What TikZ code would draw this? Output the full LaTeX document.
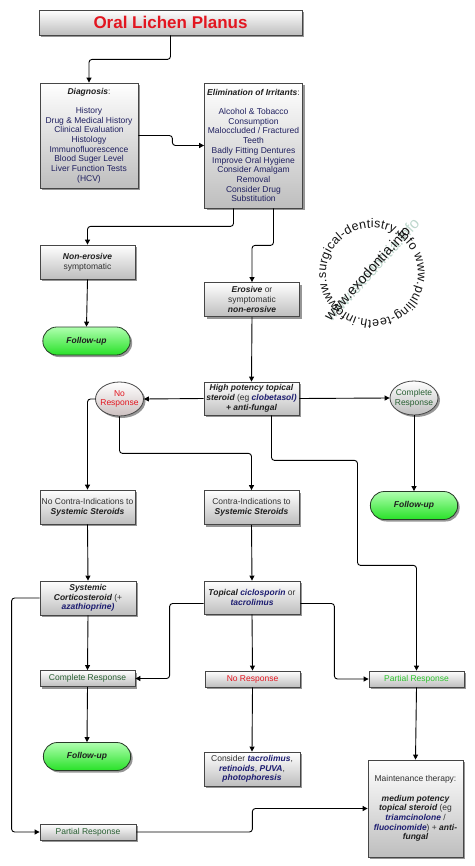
\documentclass[tikz,border=0pt]{standalone}
\usepackage{fontspec}
\setmainfont{Liberation Sans}
\usetikzlibrary{arrows.meta,shapes.misc,shapes.geometric,shadows,decorations.text}
\definecolor{frame}{RGB}{70,70,70}
\definecolor{boxgray}{RGB}{190,190,190}
\definecolor{shadowgray}{RGB}{150,150,150}
\definecolor{ink}{RGB}{50,50,50}
\definecolor{headink}{RGB}{30,30,30}
\definecolor{navy}{RGB}{32,32,96}
\definecolor{drugblue}{RGB}{28,28,112}
\definecolor{olpred}{RGB}{226,22,32}
\definecolor{dkgreen}{RGB}{40,95,50}
\definecolor{ltgreen}{RGB}{45,195,45}
\definecolor{pillline}{RGB}{40,60,40}
\definecolor{pilltop}{RGB}{175,255,175}
\definecolor{pillbot}{RGB}{40,225,40}
\definecolor{pinkgray}{RGB}{205,192,192}
\definecolor{wmink}{RGB}{20,20,20}
\definecolor{wmfade}{RGB}{190,215,205}
\newcommand{\boxfont}{\fontsize{8.5}{9.7}\selectfont}
\newcommand{\wmfont}{\fontsize{12.5}{12.5}\selectfont}
\newcommand{\bfit}[1]{{\color{headink}\bfseries\itshape #1}}
\newcommand{\drug}[1]{{\color{drugblue}\bfseries\itshape #1}}
\tikzset{
  box/.style={draw=frame,line width=0.8pt,top color=white,bottom color=boxgray,
    drop shadow={shadow xshift=2pt,shadow yshift=-2pt,fill=shadowgray,opacity=1},
    align=center,font=\boxfont,text=ink,inner xsep=0pt,inner ysep=1pt,
    minimum width=95pt,minimum height=34pt},
  titlebox/.style={box,minimum width=263pt,minimum height=25pt,
    font=\fontsize{17}{20}\selectfont\bfseries,text=olpred},
  resp/.style={box,minimum height=16pt,text=#1},
  oval/.style={ellipse,draw=frame,line width=0.8pt,top color=white,bottom color=#1,
    drop shadow={shadow xshift=2pt,shadow yshift=-2pt,fill=shadowgray,opacity=1},
    align=center,font=\boxfont,inner xsep=-4pt,inner ysep=0pt,
    minimum width=48pt,minimum height=34pt},
  oval/.default=boxgray,
  pill/.style={rounded rectangle,draw=pillline,line width=0.8pt,top color=pilltop,
    bottom color=pillbot,
    drop shadow={shadow xshift=2pt,shadow yshift=-2pt,fill=shadowgray,opacity=1},
    font=\boxfont\bfseries\itshape,text=headink,minimum width=94pt,minimum height=28pt},
  flow/.style={-{Triangle[length=5pt,width=5pt]},line width=0.9pt,draw=black,
    rounded corners=3pt},
  wmark/.style={rotate=48,font=\fontsize{14}{14}\selectfont,text=wmink,inner sep=0pt},
}

\begin{document}
\begin{tikzpicture}[x=1pt,y=-1pt]
  \useasboundingbox (0,0) rectangle (474,866);
  % watermark
  \coordinate (wm) at (372,274);
  \node[wmark,text=wmfade,scale=1.1] (wmfaded) at (372,270) {www.exodontia.info};
  \node[wmark] (wmtext) at (367,273) {www.exodontia.info};
  \path[decorate,decoration={text along path,text align=fit to path,
      text={|\wmfont\color{wmink}|www.surgical-dentistry.info www.pulling-teeth.info }}]
    (wm) ++(225:46pt) arc[start angle=225,end angle=-135,radius=46pt];

  % top part
  \node[titlebox] (title) at (170.5,22.5) {Oral Lichen Planus};
  \node[box,minimum width=98pt,minimum height=105pt,text=navy] (diag) at (89,135.5)
    {\bfit{Diagnosis}{\color{ink}:}\\[9.7pt]History\\Drug \& Medical History\\Clinical Evaluation\\
     Histology\\Immunofluorescence\\Blood Suger Level\\Liver Function Tests\\(HCV)};
  \node[box,minimum width=98pt,minimum height=125pt,text=navy] (elim) at (253.5,145.5)
    {\bfit{Elimination of Irritants}{\color{ink}:}\\[9.7pt]Alcohol \& Tobacco\\Consumption\\
     Maloccluded / Fractured\\Teeth\\Badly Fitting Dentures\\Improve Oral Hygiene\\
     Consider Amalgam\\Removal\\Consider Drug\\Substitution};
  \node[box] (nonero) at (87.5,262) {\bfit{Non-erosive}\\symptomatic};
  \node[pill] (fu1) at (86.5,341) {Follow-up};
  \node[box] (ero) at (252,299.5) {\bfit{Erosive} or\\symptomatic\\\bfit{non-erosive}};

  % first treatment
  \node[box,minimum height=33pt] (high) at (251.5,398.5)
    {\bfit{High potency topical}\\\bfit{steroid} (eg \drug{clobetasol)}\\\bfit{+ anti-fungal}};
  \node[oval=pinkgray,text=olpred] (nores) at (119.5,399) {No\\Response};
  \node[oval,text=dkgreen] (compl) at (414,398) {Complete\\Response};
  \node[pill] (fu2) at (414,505.5) {Follow-up};
  \node[box] (nocontra) at (87.5,507) {No Contra-Indications to\\\bfit{Systemic Steroids}};
  \node[box] (contra) at (251.5,507.5) {Contra-Indications to\\\bfit{Systemic Steroids}};

  % second treatment
  \node[box,minimum width=96pt] (syst) at (88,598)
    {\bfit{Systemic}\\\bfit{Corticosteroid} (+\\\drug{azathioprine)}};
  \node[box,minimum width=96pt,minimum height=33pt] (topic) at (252,597.5)
    {\bfit{Topical} \drug{ciclosporin} or\\\drug{tacrolimus}};
  \node[resp=dkgreen] (cresp) at (87.5,678.5) {Complete Response};
  \node[resp=olpred] (nresp) at (252.5,679) {No Response};
  \node[resp=ltgreen] (presp) at (416.5,679) {Partial Response};
  \node[pill] (fu3) at (87,756.5) {Follow-up};
  \node[box,minimum width=96pt] (consider) at (252,769)
    {Consider \drug{tacrolimus},\\\drug{retinoids}, \drug{PUVA},\\\drug{photophoresis}};
  \node[box,minimum height=97pt] (maint) at (415.5,808.5)
    {Maintenance therapy:\\[9.7pt]\bfit{medium potency}\\\bfit{topical steroid} (eg\\
     \drug{triamcinolone} /\\\drug{fluocinomide}) + \bfit{anti-}\\\bfit{fungal}};
  \node[resp=dkgreen,minimum width=96pt] (presp2) at (88,832) {Partial Response};

  % connectors
  \draw[flow] (title.south) -- ++(0,24) -| (diag.north);
  \draw[flow] (diag.east) -- ++(34,0) |- (elim.west);
  \draw[flow] ([xshift=-20pt]elim.south) -- ++(0,18) -| (nonero.north);
  \draw[flow] ([xshift=20pt]elim.south) -- ++(0,37) -| (ero.north);
  \draw[flow] (nonero.south) -- (fu1.north);
  \draw[flow] (ero.south) -- (high.north);
  \draw[flow] (high.west) -- (nores.east);
  \draw[flow] (high.east) -- (compl.west);
  \draw[flow] (compl.south) -- (fu2.north);
  \draw[flow] (nores.west) -| (nocontra.north);
  \draw[flow] (nores.south) -- ++(0,37) -| (contra.north);
  \draw[flow] ([xshift=20pt]high.south) -- ++(0,45) -- ++(86,0) -- ++(0,105) -| (presp.north);
  \draw[flow] (nocontra.south) -- (syst.north);
  \draw[flow] (contra.south) -- (topic.north);
  \draw[flow] (syst.south) -- (cresp.north);
  \draw[flow] (syst.west) -- ++(-28,0) |- (presp2.west);
  \draw[flow] ([yshift=-6pt]topic.west) -- ++(-34,0) |- (cresp.east);
  \draw[flow] (topic.south) -- (nresp.north);
  \draw[flow] ([yshift=-6pt]topic.east) -- ++(34,0) |- (presp.west);
  \draw[flow] (cresp.south) -- (fu3.north);
  \draw[flow] (nresp.south) -- (consider.north);
  \draw[flow] (presp.south) -- (maint.north);
  \draw[flow] (presp2.east) -- ++(116,0) |- (maint.west);
\end{tikzpicture}
\end{document}
